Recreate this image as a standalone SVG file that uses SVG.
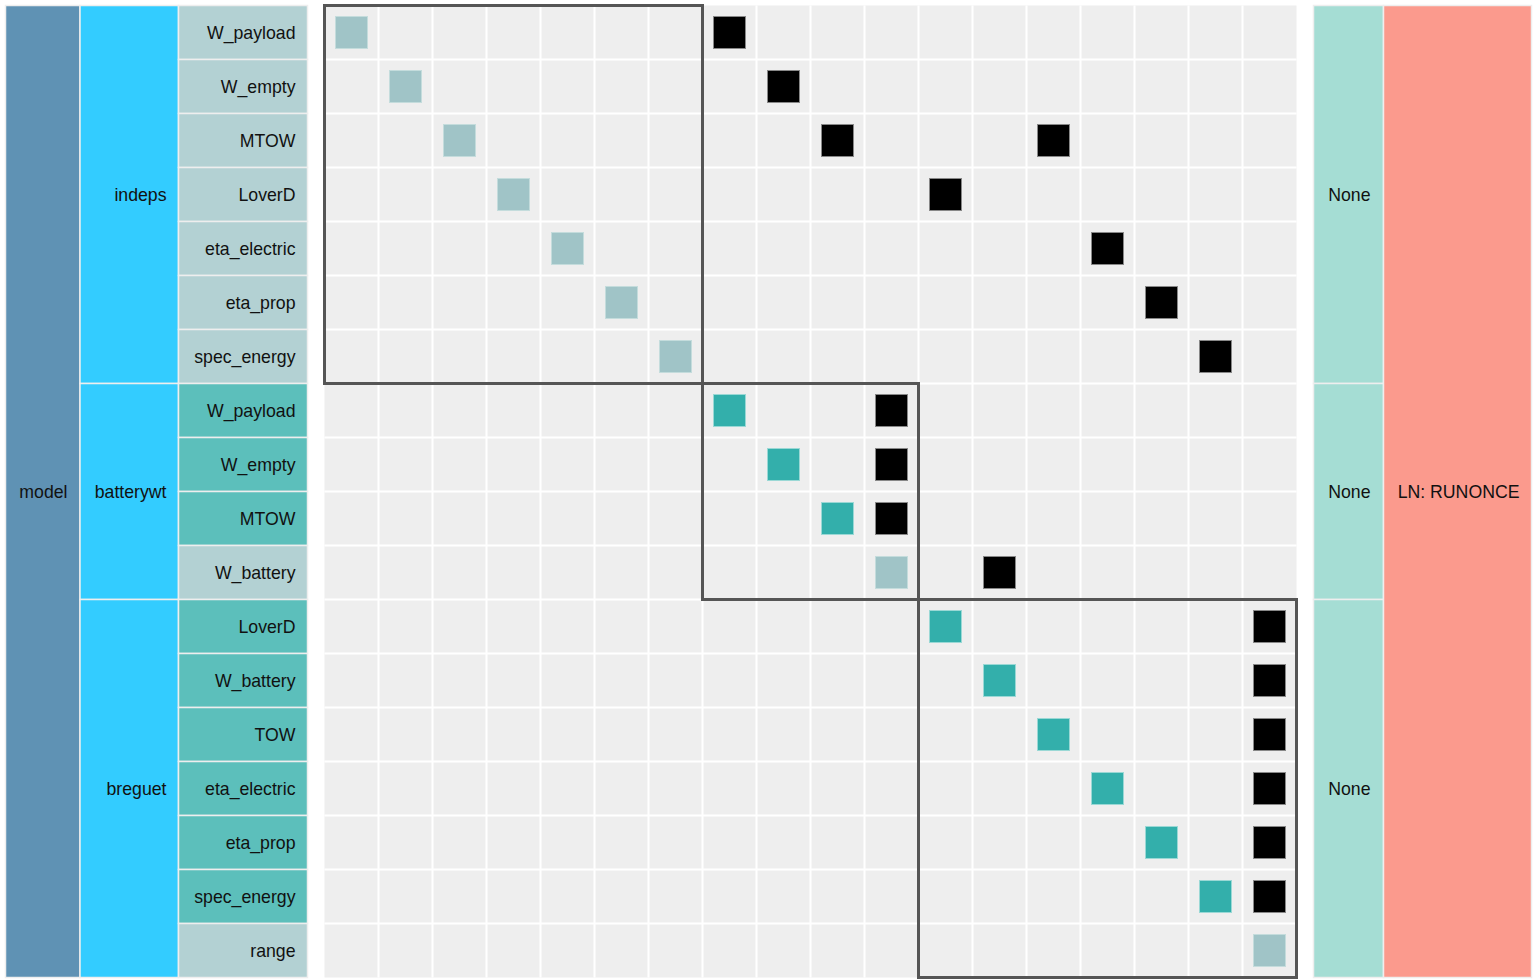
<svg xmlns="http://www.w3.org/2000/svg" width="1533" height="979" viewBox="0 0 1533 979">
<style>
text{font-family:"Liberation Sans",Arial,sans-serif;font-size:17.7px;fill:#111;text-anchor:end}
.cell{stroke:#eeeeee;stroke-width:1.5}
.model{fill:#5f92b4}
.grp{fill:#33ccff}
.vl{fill:#b3d1d3}
.vt{fill:#5cbfbb}
.sol{fill:#a5ddd4}
.ln{fill:#fb9a8d}
.dl{fill:#a0c4c7;stroke:#c4dcdc;stroke-width:1}
.dt{fill:#33afab;stroke:#9ad8d5;stroke-width:1}
.bk{fill:#000;stroke:#888;stroke-width:1}
.frame{fill:none;stroke:#555;stroke-width:3}
</style>
<rect width="1533" height="979" fill="#fff"/>
<g id="model"><rect class="cell model" x="5.5" y="5.5" width="74.5" height="972"/><text x="67.5" y="497.5">model</text></g>
<g id="indeps"><rect class="cell grp" x="80" y="5.5" width="98.5" height="378"/><text x="166.5" y="200.5">indeps</text></g>
<g id="batterywt"><rect class="cell grp" x="80" y="383.5" width="98.5" height="216"/><text x="166.5" y="497.5">batterywt</text></g>
<g id="breguet"><rect class="cell grp" x="80" y="599.5" width="98.5" height="378"/><text x="166.5" y="794.5">breguet</text></g>
<g id="indeps.W_payload"><rect class="cell vl" x="178.5" y="5.5" width="129" height="54"/><text x="295.5" y="38.5">W_payload</text></g>
<g id="indeps.W_empty"><rect class="cell vl" x="178.5" y="59.5" width="129" height="54"/><text x="295.5" y="92.5">W_empty</text></g>
<g id="indeps.MTOW"><rect class="cell vl" x="178.5" y="113.5" width="129" height="54"/><text x="295.5" y="146.5">MTOW</text></g>
<g id="indeps.LoverD"><rect class="cell vl" x="178.5" y="167.5" width="129" height="54"/><text x="295.5" y="200.5">LoverD</text></g>
<g id="indeps.eta_electric"><rect class="cell vl" x="178.5" y="221.5" width="129" height="54"/><text x="295.5" y="254.5">eta_electric</text></g>
<g id="indeps.eta_prop"><rect class="cell vl" x="178.5" y="275.5" width="129" height="54"/><text x="295.5" y="308.5">eta_prop</text></g>
<g id="indeps.spec_energy"><rect class="cell vl" x="178.5" y="329.5" width="129" height="54"/><text x="295.5" y="362.5">spec_energy</text></g>
<g id="batterywt.W_payload"><rect class="cell vt" x="178.5" y="383.5" width="129" height="54"/><text x="295.5" y="416.5">W_payload</text></g>
<g id="batterywt.W_empty"><rect class="cell vt" x="178.5" y="437.5" width="129" height="54"/><text x="295.5" y="470.5">W_empty</text></g>
<g id="batterywt.MTOW"><rect class="cell vt" x="178.5" y="491.5" width="129" height="54"/><text x="295.5" y="524.5">MTOW</text></g>
<g id="batterywt.W_battery"><rect class="cell vl" x="178.5" y="545.5" width="129" height="54"/><text x="295.5" y="578.5">W_battery</text></g>
<g id="breguet.LoverD"><rect class="cell vt" x="178.5" y="599.5" width="129" height="54"/><text x="295.5" y="632.5">LoverD</text></g>
<g id="breguet.W_battery"><rect class="cell vt" x="178.5" y="653.5" width="129" height="54"/><text x="295.5" y="686.5">W_battery</text></g>
<g id="breguet.TOW"><rect class="cell vt" x="178.5" y="707.5" width="129" height="54"/><text x="295.5" y="740.5">TOW</text></g>
<g id="breguet.eta_electric"><rect class="cell vt" x="178.5" y="761.5" width="129" height="54"/><text x="295.5" y="794.5">eta_electric</text></g>
<g id="breguet.eta_prop"><rect class="cell vt" x="178.5" y="815.5" width="129" height="54"/><text x="295.5" y="848.5">eta_prop</text></g>
<g id="breguet.spec_energy"><rect class="cell vt" x="178.5" y="869.5" width="129" height="54"/><text x="295.5" y="902.5">spec_energy</text></g>
<g id="breguet.range"><rect class="cell vl" x="178.5" y="923.5" width="129" height="54"/><text x="295.5" y="956.5">range</text></g>

<g id="matrix-grid">
<rect x="324.5" y="5.5" width="972" height="972" fill="#eeeeee"/>
<path stroke="#fff" stroke-width="2" fill="none" d="M378.5 5.5V977.5M432.5 5.5V977.5M486.5 5.5V977.5M540.5 5.5V977.5M594.5 5.5V977.5M648.5 5.5V977.5M702.5 5.5V977.5M756.5 5.5V977.5M810.5 5.5V977.5M864.5 5.5V977.5M918.5 5.5V977.5M972.5 5.5V977.5M1026.5 5.5V977.5M1080.5 5.5V977.5M1134.5 5.5V977.5M1188.5 5.5V977.5M1242.5 5.5V977.5M324.5 59.5H1296.5M324.5 113.5H1296.5M324.5 167.5H1296.5M324.5 221.5H1296.5M324.5 275.5H1296.5M324.5 329.5H1296.5M324.5 383.5H1296.5M324.5 437.5H1296.5M324.5 491.5H1296.5M324.5 545.5H1296.5M324.5 599.5H1296.5M324.5 653.5H1296.5M324.5 707.5H1296.5M324.5 761.5H1296.5M324.5 815.5H1296.5M324.5 869.5H1296.5M324.5 923.5H1296.5"/>
</g>
<g id="matrix-diagonal">
<rect class="dl" x="335.5" y="16.5" width="32" height="32"/>
<rect class="dl" x="389.5" y="70.5" width="32" height="32"/>
<rect class="dl" x="443.5" y="124.5" width="32" height="32"/>
<rect class="dl" x="497.5" y="178.5" width="32" height="32"/>
<rect class="dl" x="551.5" y="232.5" width="32" height="32"/>
<rect class="dl" x="605.5" y="286.5" width="32" height="32"/>
<rect class="dl" x="659.5" y="340.5" width="32" height="32"/>
<rect class="dt" x="713.5" y="394.5" width="32" height="32"/>
<rect class="dt" x="767.5" y="448.5" width="32" height="32"/>
<rect class="dt" x="821.5" y="502.5" width="32" height="32"/>
<rect class="dl" x="875.5" y="556.5" width="32" height="32"/>
<rect class="dt" x="929.5" y="610.5" width="32" height="32"/>
<rect class="dt" x="983.5" y="664.5" width="32" height="32"/>
<rect class="dt" x="1037.5" y="718.5" width="32" height="32"/>
<rect class="dt" x="1091.5" y="772.5" width="32" height="32"/>
<rect class="dt" x="1145.5" y="826.5" width="32" height="32"/>
<rect class="dt" x="1199.5" y="880.5" width="32" height="32"/>
<rect class="dl" x="1253.5" y="934.5" width="32" height="32"/>
</g>
<g id="connectors">
<rect class="bk" x="713.5" y="16.5" width="32" height="32"/>
<rect class="bk" x="767.5" y="70.5" width="32" height="32"/>
<rect class="bk" x="821.5" y="124.5" width="32" height="32"/>
<rect class="bk" x="1037.5" y="124.5" width="32" height="32"/>
<rect class="bk" x="929.5" y="178.5" width="32" height="32"/>
<rect class="bk" x="1091.5" y="232.5" width="32" height="32"/>
<rect class="bk" x="1145.5" y="286.5" width="32" height="32"/>
<rect class="bk" x="1199.5" y="340.5" width="32" height="32"/>
<rect class="bk" x="875.5" y="394.5" width="32" height="32"/>
<rect class="bk" x="875.5" y="448.5" width="32" height="32"/>
<rect class="bk" x="875.5" y="502.5" width="32" height="32"/>
<rect class="bk" x="983.5" y="556.5" width="32" height="32"/>
<rect class="bk" x="1253.5" y="610.5" width="32" height="32"/>
<rect class="bk" x="1253.5" y="664.5" width="32" height="32"/>
<rect class="bk" x="1253.5" y="718.5" width="32" height="32"/>
<rect class="bk" x="1253.5" y="772.5" width="32" height="32"/>
<rect class="bk" x="1253.5" y="826.5" width="32" height="32"/>
<rect class="bk" x="1253.5" y="880.5" width="32" height="32"/>
</g>
<g id="matrix-frames">
<rect class="frame" x="324.5" y="5.5" width="378" height="378"/>
<rect class="frame" x="702.5" y="383.5" width="216" height="216"/>
<rect class="frame" x="918.5" y="599.5" width="378" height="378"/>
</g>
<g id="solver-indeps"><rect class="cell sol" x="1313.5" y="5.5" width="70" height="378"/><text x="1370.5" y="200.5">None</text></g>
<g id="solver-batterywt"><rect class="cell sol" x="1313.5" y="383.5" width="70" height="216"/><text x="1370.5" y="497.5">None</text></g>
<g id="solver-breguet"><rect class="cell sol" x="1313.5" y="599.5" width="70" height="378"/><text x="1370.5" y="794.5">None</text></g>
<g id="solver-model"><rect class="cell ln" x="1383.5" y="5.5" width="148" height="972"/><text x="1519.5" y="497.5">LN: RUNONCE</text></g>
</svg>
